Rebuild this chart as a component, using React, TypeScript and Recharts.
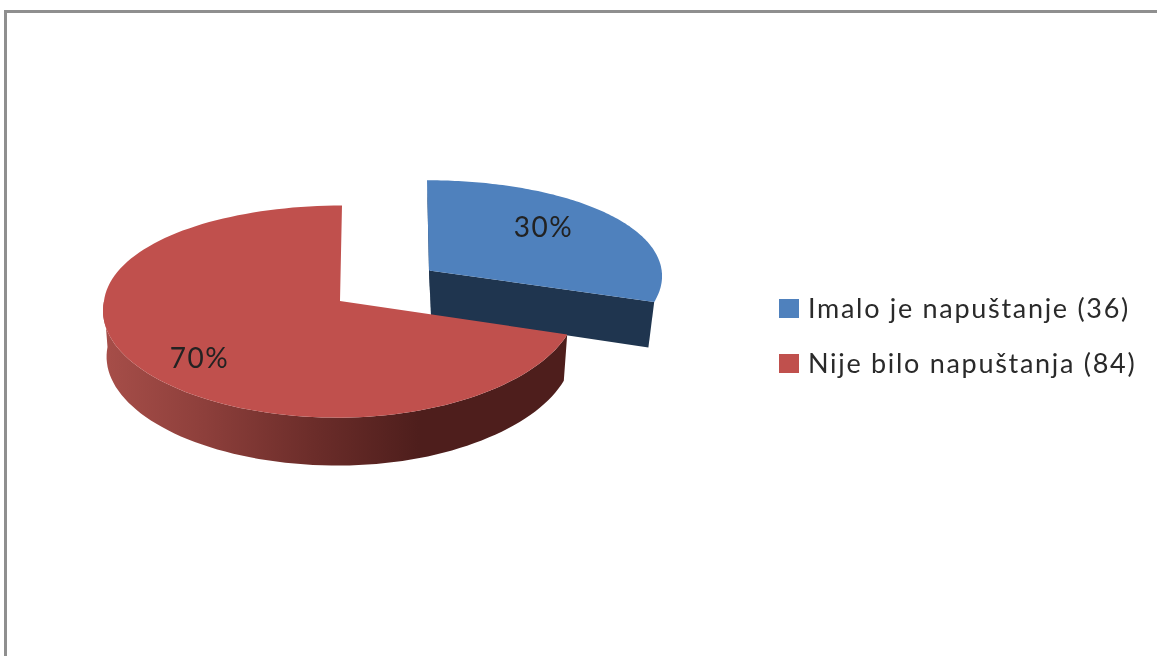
import { PieChart, Pie, Cell, Legend } from 'recharts';

const categories = ['Imalo je napuštanje', 'Nije bilo napuštanja'];
const counts = [36, 84];
const colors = ['#4f81bd', '#c0504d'];
const sideColors = ['#1f354f', 'url(#redSide)'];

const tableData = categories.map((name, i) => ({ name: `${name} (${counts[i]})`, value: counts[i] }));

const CX = 340;
const CY = 301;
const RADIUS = 236;
const FONT = 'Lato, "Open Sans", sans-serif';

// fake 3D view: a unit disc seen in perspective
function project(u: number, v: number) {
  const k = u < 0 && v > 0 ? 0.085 : 0.048;
  return [CX + (RADIUS * u) / (1 - k * v) - 2 * v, CY + (105 * v) / (1 - 0.1 * v)];
}

// same point on the underside of the slice
function projectLow(u: number, v: number, idx: number) {
  const [x, y] = project(u, v);
  const pivot = idx === 0 ? 486 : 343;
  const scale = idx === 0 ? 0.965 : 0.985;
  return [pivot + (x - pivot) * scale, y + 45.5 / (1 - 0.05 * v)];
}

function pathOf(points: number[][]) {
  return points.map((p, i) => `${i ? 'L' : 'M'}${p[0].toFixed(1)} ${p[1].toFixed(1)}`).join(' ') + ' Z';
}

function sectorOffset(index: number) {
  return index === 0 ? [0.38, -0.3] : [0, 0];
}

function Sector3D(props: any) {
  const { startAngle, endAngle, index, fill } = props;
  const idx = index ?? categories.findIndex((c) => props.name?.startsWith(c));
  const [ou, ov] = sectorOffset(idx);
  const rim: number[][] = [];
  const steps = 120;
  for (let i = 0; i <= steps; i++) {
    const a = ((startAngle + ((endAngle - startAngle) * i) / steps) * Math.PI) / 180;
    rim.push([ou + Math.cos(a), ov - Math.sin(a)]);
  }
  const top = rim.map(([u, v]) => project(u, v));
  const centerTop = project(ou, ov);
  const centerLow = projectLow(ou, ov, idx);
  const last = rim.length - 1;
  const side = sideColors[idx];

  if (idx === 0) {
    // exploded slice only shows its cut faces
    return (
      <g>
        <path d={pathOf([centerTop, top[0], projectLow(rim[0][0], rim[0][1], idx), centerLow])} fill={side} />
        <path d={pathOf([centerTop, top[last], projectLow(rim[last][0], rim[last][1], idx), centerLow])} fill={side} />
        <path d={pathOf([centerTop, ...top])} fill={fill} />
      </g>
    );
  }

  const front = rim.filter(([, v]) => v > 0);
  const wallTop = front.map(([u, v]) => project(u, v));
  const wallLow = front.map(([u, v]) => projectLow(u, v, idx));
  return (
    <g>
      <path d={pathOf([...wallTop, ...wallLow.reverse()])} fill={side} />
      <path d={pathOf([centerTop, ...top])} fill={fill} />
    </g>
  );
}

function renderLabel(props: any) {
  const { midAngle, percent, index } = props;
  const a = (midAngle * Math.PI) / 180;
  const [ou, ov] = sectorOffset(index);
  const r = index === 0 ? 0.65 : 0.72;
  const [x, y] = project(ou + r * Math.cos(a), ov - r * Math.sin(a));
  const nudge = index === 0 ? [-5, -8] : [3, 10];
  return (
    <text
      x={x + nudge[0]}
      y={y + nudge[1]}
      textAnchor="middle"
      dominantBaseline="central"
      fontFamily={FONT}
      fontSize={28}
      letterSpacing={1.5}
      fill="#222"
    >
      {`${Math.round(percent * 100)}%`}
    </text>
  );
}

function LegendBox({ payload }: any) {
  return (
    <div>
      {(payload || []).map((item: any) => (
        <div key={item.value} style={{ display: 'flex', alignItems: 'center', height: 55 }}>
          <span style={{ width: 20, height: 19, background: item.color, marginRight: 9 }} />
          <span
            style={{
              fontFamily: FONT,
              fontSize: 27,
              letterSpacing: 1.7,
              color: '#2a2a2a',
              whiteSpace: 'nowrap',
              position: 'relative',
              top: -1,
            }}
          >
            {item.value}
          </span>
        </div>
      ))}
    </div>
  );
}

export default function App() {
  return (
    <div style={{ position: 'absolute', left: 0, top: 0, width: 1157, height: 656, overflow: 'hidden', background: '#fff', filter: 'blur(0.5px)' }}>
      <div
        style={{
          position: 'absolute',
          left: 4,
          top: 10,
          right: -10,
          bottom: -10,
          borderLeft: '3px solid #8f8f8f',
          borderTop: '3px solid #8f8f8f',
        }}
      />
      <div style={{ position: 'absolute', left: 0, top: 0 }}>
        <PieChart width={1157} height={656} margin={{ top: 0, right: 0, bottom: 0, left: 0 }}>
          <defs>
            <linearGradient id="redSide" x1="0" y1="0" x2="1" y2="0">
              <stop offset="0%" stopColor="#a74e49" />
              <stop offset="22%" stopColor="#8d3f3b" />
              <stop offset="45%" stopColor="#6c2d2a" />
              <stop offset="68%" stopColor="#4e1e1c" />
              <stop offset="100%" stopColor="#4e1e1c" />
            </linearGradient>
          </defs>
          <Pie
            data={tableData}
            dataKey="value"
            nameKey="name"
            cx={CX}
            cy={CY}
            outerRadius={RADIUS}
            startAngle={90}
            endAngle={-270}
            stroke="none"
            shape={Sector3D}
            label={renderLabel}
            labelLine={false}
            isAnimationActive={false}
          >
            {tableData.map((d, i) => (
              <Cell key={d.name} fill={colors[i]} />
            ))}
          </Pie>
          <Legend
            layout="vertical"
            align="left"
            verticalAlign="top"
            wrapperStyle={{ left: 779, top: 281, width: 378 }}
            content={<LegendBox />}
          />
        </PieChart>
      </div>
    </div>
  );
}
